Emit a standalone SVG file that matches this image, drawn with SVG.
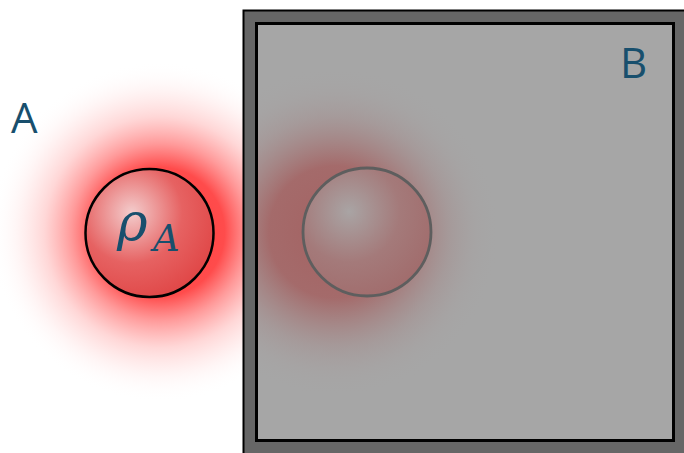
<svg xmlns="http://www.w3.org/2000/svg" width="684" height="453" viewBox="0 0 684 453">
<defs>
<style>
.lbl{font-family:"Open Sans","Liberation Sans",sans-serif;font-size:42px;fill:#184f6d}
.math{font-family:"DejaVu Serif","Liberation Serif",serif;font-style:italic;fill:#184f6d}
</style>
<radialGradient id="glowA" cx="160" cy="232" r="170" gradientUnits="userSpaceOnUse">
<stop offset="0" stop-color="#ff3a3a" stop-opacity="1"/>
<stop offset="0.38" stop-color="#ff3c3c" stop-opacity="0.92"/>
<stop offset="0.52" stop-color="#ff5050" stop-opacity="0.58"/>
<stop offset="0.68" stop-color="#ff7070" stop-opacity="0.28"/>
<stop offset="0.84" stop-color="#ff9a9a" stop-opacity="0.1"/>
<stop offset="1" stop-color="#ffffff" stop-opacity="0"/>
</radialGradient>
<radialGradient id="glowB" cx="335" cy="232" r="165" gradientUnits="userSpaceOnUse">
<stop offset="0" stop-color="#a46262" stop-opacity="1"/>
<stop offset="0.4" stop-color="#a46464" stop-opacity="0.9"/>
<stop offset="0.55" stop-color="#a46c6c" stop-opacity="0.55"/>
<stop offset="0.7" stop-color="#a47c7c" stop-opacity="0.28"/>
<stop offset="0.85" stop-color="#a69090" stop-opacity="0.1"/>
<stop offset="1" stop-color="#a6a6a6" stop-opacity="0"/>
</radialGradient>
<radialGradient id="ballA" cx="0.36" cy="0.34" r="0.72">
<stop offset="0" stop-color="#f3cccc"/>
<stop offset="0.55" stop-color="#e66262"/>
<stop offset="1" stop-color="#e04646"/>
</radialGradient>
<radialGradient id="ballB" cx="0.36" cy="0.34" r="0.72">
<stop offset="0" stop-color="#a9a4a4"/>
<stop offset="0.55" stop-color="#a47a7a"/>
<stop offset="1" stop-color="#a16c6c"/>
</radialGradient>
<clipPath id="inner"><rect x="256" y="23" width="418" height="418"/></clipPath>
</defs>
<rect width="684" height="453" fill="#ffffff"/>
<g id="glow-A"><rect x="0" y="50" width="260" height="370" fill="url(#glowA)"/></g>
<g id="B">
<rect x="243.5" y="10.5" width="445" height="450" fill="#666666" stroke="#000" stroke-width="2"/>
<rect x="256.5" y="23.5" width="417" height="417" fill="#a6a6a6" stroke="#000" stroke-width="3"/>
<g clip-path="url(#inner)">
<rect x="258" y="25" width="414" height="414" fill="url(#glowB)"/>
</g>
<circle cx="367" cy="232" r="64" fill="url(#ballB)" stroke="#5e5e5e" stroke-width="2.8"/>
<text class="lbl" x="620" y="78">B</text>
</g>
<g id="A">
<circle cx="149.5" cy="233" r="64" fill="url(#ballA)" stroke="#000" stroke-width="2.5"/>
<text class="math" x="117" y="240" font-size="52">ρ</text>
<text class="math" x="153" y="251" font-size="37">A</text>
<text class="lbl" x="11" y="133">A</text>
</g>
</svg>
